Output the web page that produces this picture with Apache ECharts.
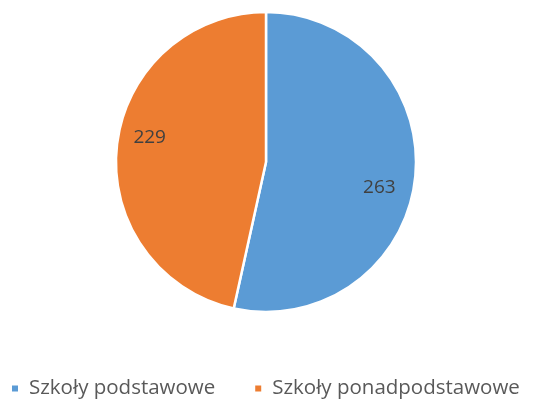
<!DOCTYPE html>
<html>
<head>
<meta charset="utf-8">
<script src="https://cdn.jsdelivr.net/npm/echarts@6/dist/echarts.min.js"></script>
<style>
  html, body { margin: 0; padding: 0; background: #fff; }
  #chart { width: 536px; height: 403px; }
</style>
</head>
<body>
<div id="chart"></div>
<script>
// data
var categories = ['Szkoły podstawowe', 'Szkoły ponadpodstawowe'];
var values = [263, 229];
var colors = ['#5B9BD5', '#ED7D31'];

var pieData = categories.map(function (name, i) {
  return { name: name, value: values[i], itemStyle: { color: colors[i] } };
});

// nudge the value labels a little, like Excel's best-fit placement
var labelOffsets = [[-3, 13], [0, -12]];

var chart = echarts.init(document.getElementById('chart'));
chart.setOption({
  animation: false,
  legend: {
    bottom: -1,
    left: 5,
    icon: 'rect',
    itemWidth: 8,
    itemHeight: 8,
    itemGap: 38,
    textStyle: { fontFamily: 'Open Sans', fontSize: 20.5, color: '#595959', padding: [0, 0, 0, 5] },
    data: categories
  },
  series: [
    {
      // slices
      type: 'pie',
      center: [266, 162],
      radius: [0, 150],
      startAngle: 90,
      clockwise: true,
      itemStyle: { borderColor: '#fff', borderWidth: 2.5 },
      label: { show: false },
      labelLine: { show: false },
      data: pieData
    },
    {
      // value labels only, placed further out from the centre
      type: 'pie',
      center: [266, 162],
      radius: [78, 150],
      startAngle: 90,
      clockwise: true,
      silent: true,
      itemStyle: { color: 'transparent', borderWidth: 0 },
      label: {
        show: true,
        position: 'inside',
        formatter: '{c}',
        fontFamily: 'Open Sans',
        fontSize: 19,
        color: '#404040'
      },
      labelLine: { show: false },
      data: values.map(function (v, i) {
        return { name: categories[i], value: v, label: { offset: labelOffsets[i] } };
      })
    }
  ]
});
</script>
</body>
</html>
